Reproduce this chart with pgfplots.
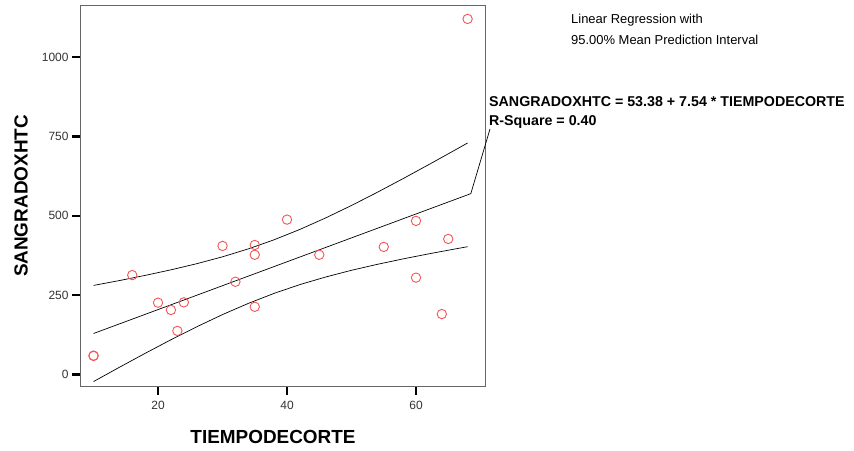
\documentclass[border=0pt]{standalone}
\usepackage{pgfplots}
\pgfplotsset{compat=1.18}
\usepackage{fontspec}
\setmainfont{Liberation Sans}
\definecolor{ptred}{RGB}{245,85,85}

\begin{document}
\begin{tikzpicture}[x=1bp,y=1bp]
\begin{axis}[
  at={(80bp,64.3bp)}, anchor=south west,
  width=405bp, height=381.4bp, scale only axis,
  xmin=7.9, xmax=70.7, ymin=-39, ymax=1164,
  xtick={20,40,60}, ytick={0,250,500,750,1000},
  tick align=outside, tick pos=left,
  major tick length=8bp,
  every tick/.style={black, line width=2.4bp},
  axis line style={draw=black!60, line width=0.9bp},
  tick label style={font=\fontsize{12}{14}\selectfont, text=black!80},
  xticklabel style={yshift=-3bp},
  /pgf/number format/assume math mode=true,
  /pgf/number format/set thousands separator={},
  clip=false,
]
% observed points
\addplot[only marks, mark=o, mark size=4.7bp, draw=ptred, line width=0.9bp] coordinates {
  (10,58) (10,59) (16,313) (20,226) (22,203) (23,137) (24,227) (30,405)
  (32,292) (35,408) (35,377) (35,213) (40,488) (45,377) (55,402)
  (60,484) (60,305) (64,190) (65,427) (68,1121)};
% fit line
\addplot[black, line width=0.7bp] coordinates {(10,128.8) (68,566.1)};
% upper mean interval
\addplot[black, line width=0.7bp] coordinates {
  (10,280.4) (14,295.7) (18,312.0) (22,329.6) (26,348.9) (30,370.7)
  (34,395.7) (38,424.4) (42,457.1) (46,493.4) (50,532.6) (54,574.1)
  (58,617.3) (62,661.7) (66,706.8) (68,729.7)};
% lower mean interval
\addplot[black, line width=0.7bp] coordinates {
  (10,-22.8) (14,22.1) (18,66.2) (22,109.0) (26,149.9) (30,188.5)
  (34,223.7) (38,255.4) (42,283.1) (46,307.0) (50,328.2) (54,346.9)
  (58,364.1) (62,380.1) (66,395.2) (68,402.5)};
\coordinate (fitend) at (axis cs:68,566.1);
\coordinate (fitkink) at (axis cs:68.5,570);
\end{axis}
\draw[black, line width=0.7bp] (fitend) -- (fitkink) -- (490,322);
\node[font=\fontsize{19}{22}\selectfont\bfseries] at (273,14) {TIEMPODECORTE};
\node[font=\fontsize{19}{22}\selectfont\bfseries, rotate=90] at (21,255) {SANGRADOXHTC};
\node[anchor=west, inner sep=0pt, font=\fontsize{13}{15}\selectfont] at (571,431) {Linear Regression with};
\node[anchor=west, inner sep=0pt, font=\fontsize{13}{15}\selectfont] at (571,411) {95.00\% Mean Prediction Interval};
\node[anchor=west, inner sep=0pt, font=\fontsize{14.3}{16}\selectfont\bfseries] at (489,349) {SANGRADOXHTC = 53.38 + 7.54 * TIEMPODECORTE};
\node[anchor=west, inner sep=0pt, font=\fontsize{14.3}{16}\selectfont\bfseries] at (489,329) {R-Square = 0.40};
\pgfresetboundingbox
\path (0,0) rectangle (854,451);
\end{tikzpicture}
\end{document}
